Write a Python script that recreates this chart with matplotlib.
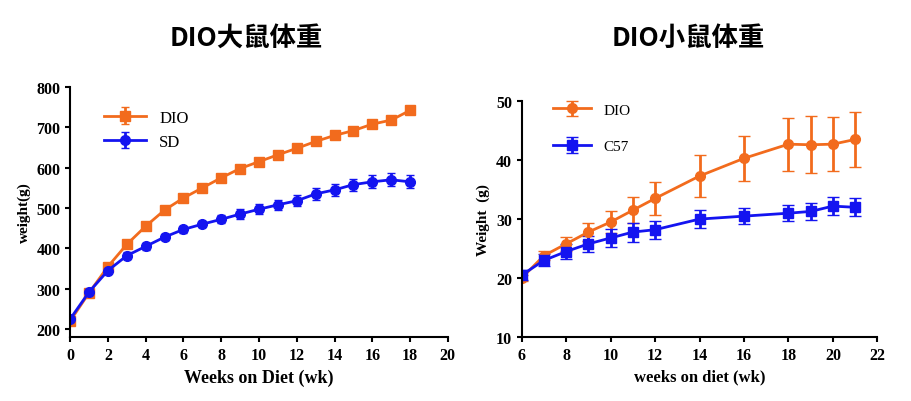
import matplotlib
matplotlib.use("Agg")
import matplotlib.pyplot as plt

rat_weeks = list(range(19))
rat_dio = [220, 290, 355, 410, 455, 495, 525, 550, 575, 598, 615, 632, 648, 665, 680, 692, 708, 718, 742]
rat_dio_err = [5, 6, 7, 8, 8, 8, 8, 8, 8, 8, 8, 8, 8, 9, 9, 9, 9, 9, 10]
rat_sd = [225, 292, 345, 382, 405, 428, 447, 460, 472, 485, 497, 508, 518, 535, 545, 558, 565, 570, 565]
rat_sd_err = [5, 6, 7, 8, 8, 8, 8, 8, 10, 12, 12, 12, 14, 15, 15, 15, 16, 16, 16]

mouse_weeks = [6, 7, 8, 9, 10, 11, 12, 14, 16, 18, 19, 20, 21]
mouse_dio = [20, 23.8, 25.8, 27.8, 29.5, 31.5, 33.5, 37.3, 40.3, 42.7, 42.6, 42.7, 43.5]
mouse_dio_err = [0.5, 0.8, 1.2, 1.5, 1.8, 2.2, 2.8, 3.5, 3.8, 4.5, 4.8, 4.6, 4.7]
mouse_c57 = [20.5, 23, 24.5, 25.8, 26.8, 27.8, 28.2, 30, 30.5, 31, 31.3, 32.2, 32]
mouse_c57_err = [0.8, 1.0, 1.2, 1.4, 1.5, 1.6, 1.5, 1.5, 1.4, 1.4, 1.4, 1.5, 1.5]

ORANGE = "#F26B1D"
BLUE = "#1414F0"
serif = "Liberation Serif"
cjk = ["Noto Sans CJK SC", "DejaVu Sans"]

fig = plt.figure(figsize=(9.12, 4.02), dpi=100)
ax1 = fig.add_axes([0.077, 0.159, 0.414, 0.622])
ax2 = fig.add_axes([0.572, 0.159, 0.390, 0.587])

def style(ax):
    for s in ["top", "right"]:
        ax.spines[s].set_visible(False)
    for s in ["left", "bottom"]:
        ax.spines[s].set_linewidth(1.5)
    ax.tick_params(width=1.5, labelsize=11.5)
    for lab in ax.get_xticklabels() + ax.get_yticklabels():
        lab.set_fontfamily(serif)
        lab.set_fontweight("bold")

ax1.errorbar(rat_weeks, rat_dio, yerr=rat_dio_err, color=ORANGE, marker="s", ms=7, lw=2, capsize=3, label="DIO")
ax1.errorbar(rat_weeks, rat_sd, yerr=rat_sd_err, color=BLUE, marker="o", ms=7, lw=2, capsize=3, label="SD")
ax1.set_xlim(0, 20); ax1.set_ylim(180, 800)
ax1.set_xticks(range(0, 21, 2)); ax1.set_yticks(range(200, 801, 100))
ax1.set_xlabel("Weeks on Diet (wk)", fontfamily=serif, fontweight="bold", fontsize=13)
ax1.set_ylabel("weight(g)", fontfamily=serif, fontweight="bold", fontsize=11)
style(ax1)
ax1.legend(loc="upper left", bbox_to_anchor=(0.05, 0.97), frameon=False, prop={"family": serif, "size": 12}, handlelength=2.5)

ax2.errorbar(mouse_weeks, mouse_dio, yerr=mouse_dio_err, color=ORANGE, marker="o", ms=7, lw=2, capsize=4, elinewidth=2, label="DIO")
ax2.errorbar(mouse_weeks, mouse_c57, yerr=mouse_c57_err, color=BLUE, marker="s", ms=7, lw=2, capsize=4, elinewidth=2, label="C57")
ax2.set_xlim(6, 22); ax2.set_ylim(10, 50)
ax2.set_xticks(range(6, 23, 2)); ax2.set_yticks(range(10, 51, 10))
ax2.set_xlabel("weeks on diet (wk)", fontfamily=serif, fontweight="bold", fontsize=12)
ax2.set_ylabel("Weight  (g)", fontfamily=serif, fontweight="bold", fontsize=11)
style(ax2)
ax2.legend(loc="upper left", bbox_to_anchor=(0.05, 1.05), frameon=False, prop={"family": serif, "size": 11}, handlelength=2.5, labelspacing=1.5)

fig.text(0.27, 0.905, "DIO大鼠体重", ha="center", va="center", fontsize=19, fontweight="bold", family=cjk)
fig.text(0.755, 0.905, "DIO小鼠体重", ha="center", va="center", fontsize=19, fontweight="bold", family=cjk)

fig.savefig("out.png", dpi=100)
